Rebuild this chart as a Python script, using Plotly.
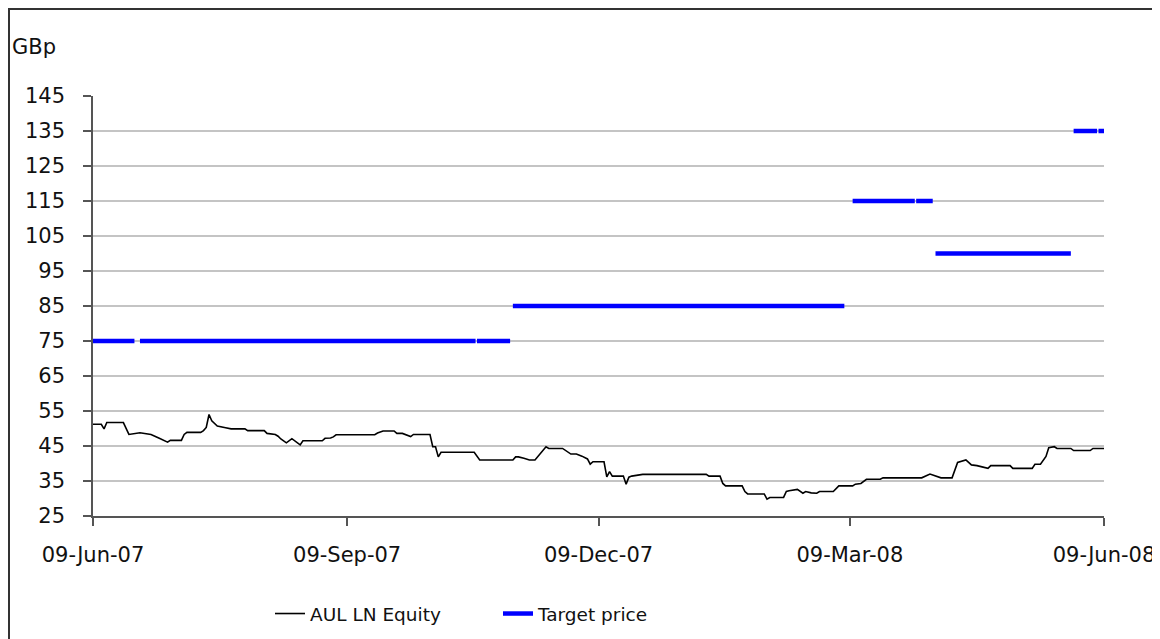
import plotly.graph_objects as go

# AUL LN Equity closing price (GBp)
price_dates = [
    "2007-06-09", "2007-06-12", "2007-06-13", "2007-06-14", "2007-06-20", "2007-06-22",
    "2007-06-26", "2007-06-30", "2007-07-03", "2007-07-06", "2007-07-07", "2007-07-11",
    "2007-07-12", "2007-07-13", "2007-07-18", "2007-07-19", "2007-07-20", "2007-07-21",
    "2007-07-22", "2007-07-24", "2007-07-27", "2007-07-29", "2007-08-03", "2007-08-04",
    "2007-08-10", "2007-08-11", "2007-08-14", "2007-08-15", "2007-08-16", "2007-08-18",
    "2007-08-20", "2007-08-23", "2007-08-24", "2007-08-31", "2007-09-01", "2007-09-03",
    "2007-09-04", "2007-09-05", "2007-09-19", "2007-09-20", "2007-09-22", "2007-09-26",
    "2007-09-27", "2007-09-29", "2007-10-02", "2007-10-03", "2007-10-09", "2007-10-10",
    "2007-10-11", "2007-10-12", "2007-10-13", "2007-10-25", "2007-10-27", "2007-11-08",
    "2007-11-09", "2007-11-10", "2007-11-12", "2007-11-14", "2007-11-16", "2007-11-20",
    "2007-11-21", "2007-11-26", "2007-11-29", "2007-12-01", "2007-12-03", "2007-12-05",
    "2007-12-06", "2007-12-07", "2007-12-11", "2007-12-12", "2007-12-13", "2007-12-14",
    "2007-12-18", "2007-12-19", "2007-12-20", "2007-12-21", "2007-12-25", "2008-01-17",
    "2008-01-18", "2008-01-22", "2008-01-23", "2008-01-24", "2008-01-30", "2008-01-31",
    "2008-02-01", "2008-02-07", "2008-02-08", "2008-02-09", "2008-02-14", "2008-02-15",
    "2008-02-16", "2008-02-19", "2008-02-21", "2008-02-22", "2008-02-24", "2008-02-26",
    "2008-02-27", "2008-03-03", "2008-03-05", "2008-03-10", "2008-03-11", "2008-03-13",
    "2008-03-15", "2008-03-20", "2008-03-21", "2008-04-04", "2008-04-07", "2008-04-11",
    "2008-04-15", "2008-04-17", "2008-04-20", "2008-04-22", "2008-04-24", "2008-04-28",
    "2008-04-29", "2008-05-06", "2008-05-07", "2008-05-14", "2008-05-15", "2008-05-17",
    "2008-05-19", "2008-05-20", "2008-05-22", "2008-05-23", "2008-05-28", "2008-05-29",
    "2008-06-04", "2008-06-05", "2008-06-09",
]
price_values = [
    51.2, 51.2, 49.9, 51.7, 51.7, 48.3,
    48.8, 48.3, 47.2, 46.1, 46.6, 46.6,
    48.3, 48.9, 48.9, 49.4, 50.3, 54.0,
    52.2, 50.7, 50.2, 49.9, 49.9, 49.4,
    49.4, 48.6, 48.3, 47.8, 47.0, 45.9,
    47.1, 45.3, 46.5, 46.5, 47.2, 47.3,
    47.6, 48.2, 48.2, 48.7, 49.3, 49.3,
    48.6, 48.6, 47.7, 48.3, 48.3, 44.8,
    44.8, 41.9, 43.2, 43.2, 41.0, 41.0,
    41.9, 41.9, 41.5, 41.0, 41.0, 44.8,
    44.3, 44.3, 42.7, 42.7, 42.1, 41.3,
    39.8, 40.5, 40.5, 36.2, 37.7, 36.4,
    36.4, 34.1, 36.1, 36.4, 36.9, 36.9,
    36.4, 36.4, 34.3, 33.6, 33.6, 32.0,
    31.3, 31.3, 29.8, 30.3, 30.3, 32.0,
    32.2, 32.6, 31.5, 32.0, 31.6, 31.5,
    32.0, 32.0, 33.6, 33.6, 34.1, 34.3,
    35.5, 35.5, 35.9, 35.9, 37.0, 35.9,
    35.9, 40.3, 41.0, 39.6, 39.4, 38.6,
    39.4, 39.4, 38.6, 38.6, 39.8, 39.8,
    42.0, 44.5, 44.8, 44.3, 44.3, 43.7,
    43.7, 44.3, 44.3,
]

# Target price (GBp); None marks a break between rating periods
target_dates = [
    "2007-06-09", "2007-06-24", None,
    "2007-06-26", "2007-10-25 12:00", None,
    "2007-10-26", "2007-11-07", None,
    "2007-11-08", "2008-03-07", None,
    "2008-03-10", "2008-04-01 12:00", None,
    "2008-04-02", "2008-04-08", None,
    "2008-04-09", "2008-05-28", None,
    "2008-05-29", "2008-06-06 12:00", None,
    "2008-06-07", "2008-06-09",
]
target_values = [
    75, 75, None,
    75, 75, None,
    75, 75, None,
    85, 85, None,
    115, 115, None,
    115, 115, None,
    100, 100, None,
    135, 135, None,
    135, 135,
]

x_ticks = ["2007-06-09", "2007-09-09", "2007-12-09", "2008-03-09", "2008-06-09"]
y_ticks = [25, 35, 45, 55, 65, 75, 85, 95, 105, 115, 125, 135, 145]

FONT = "DejaVu Sans"
FS_TICK = 21
FS_LEG = 18.5
TXT = "#111111"

fig = go.Figure()
fig.add_trace(go.Scatter(
    x=price_dates, y=price_values, mode="lines", name="AUL LN Equity",
    line=dict(color="#000000", width=1.6),
))
fig.add_trace(go.Scatter(
    x=target_dates, y=target_values, mode="lines", name="Target price",
    line=dict(color="#0000FF", width=4.5), connectgaps=False,
))

OFF = 8  # page body margin
W, H = 1152, 631
L, T = 93 - OFF, 96 - OFF
R = W - (1104 - OFF)
B = H - (516 - OFF)
pw, ph = W - L - R, H - T - B


def px_x(p):
    return (p - OFF - L) / pw


def px_y(p):
    return (H - B - (p - OFF)) / ph


fig.update_layout(
    width=W, height=H,
    margin=dict(l=L, r=R, t=T, b=B, autoexpand=False),
    paper_bgcolor="white", plot_bgcolor="white",
    font=dict(family=FONT, size=FS_TICK, color=TXT),
    showlegend=True,
    legend=dict(
        orientation="h", x=px_x(270), y=px_y(614), xanchor="left", yanchor="middle",
        font=dict(family=FONT, size=FS_LEG, color=TXT),
        entrywidth=183, tracegroupgap=0, bgcolor="rgba(0,0,0,0)",
    ),
    xaxis=dict(
        type="date", range=["2007-06-09", "2008-06-09"],
        tickvals=x_ticks, tickformat="%d-%b-%y",
        showgrid=False, zeroline=False,
        showline=True, linecolor="#555555", linewidth=1.5,
        ticks="outside", ticklen=8, tickcolor="#555555", tickwidth=1.5,
        ticklabelstandoff=11,
        tickfont=dict(family=FONT, size=FS_TICK, color=TXT),
    ),
    yaxis=dict(
        range=[25, 145], tickvals=y_ticks,
        showgrid=True, gridcolor="#c4c4c4", gridwidth=2,
        zeroline=False,
        showline=True, linecolor="#555555", linewidth=1.5,
        ticks="outside", ticklen=8, tickcolor="#555555", tickwidth=1.5,
        ticklabelstandoff=14,
        tickfont=dict(family=FONT, size=FS_TICK, color=TXT),
    ),
    annotations=[dict(
        text="GBp", xref="paper", yref="paper", x=px_x(10), y=px_y(47),
        xanchor="left", yanchor="middle", showarrow=False,
        font=dict(family=FONT, size=FS_TICK, color=TXT),
    )],
    shapes=[dict(
        type="rect", xref="paper", yref="paper",
        x0=px_x(9), x1=px_x(1175), y0=px_y(660), y1=px_y(9),
        line=dict(color="#333333", width=2), fillcolor="rgba(0,0,0,0)", layer="below",
    )],
)

fig.write_html("out.html")
